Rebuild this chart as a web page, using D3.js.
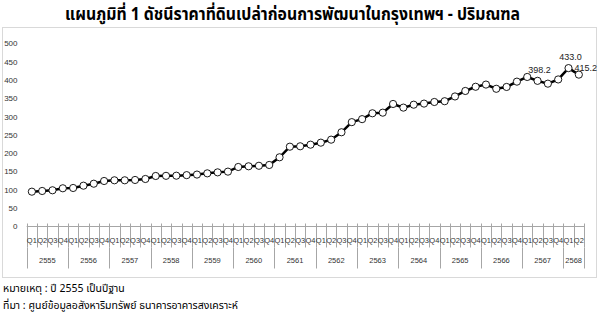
<!DOCTYPE html>
<html>
<head>
<meta charset="utf-8">
<script src="https://cdn.jsdelivr.net/npm/d3@7"></script>
<style>
  body { margin: 0; background: #fff; }
  text { font-family: Arial, "Liberation Sans", sans-serif; }
  .thai { font-family: "Noto Sans Thai", Tahoma, "Leelawadee UI", "DejaVu Sans", sans-serif; }
</style>
</head>
<body>
<div id="chart"></div>
<script>
// data: land price index, quarterly, base year 2555
var years = ["2555", "2556", "2557", "2558", "2559", "2560", "2561",
             "2562", "2563", "2564", "2565", "2566", "2567", "2568"];
var quartersPerYear = [4, 4, 4, 4, 4, 4, 4, 4, 4, 4, 4, 4, 4, 2];
var quarterNames = ["Q1", "Q2", "Q3", "Q4"];
var indexValues = [
  95.2, 97.1, 99.0, 104.5,
  105.3, 111.6, 117.0, 124.4,
  126.3, 126.3, 127.2, 129.9,
  138.1, 138.5, 138.9, 140.4,
  142.0, 145.3, 148.0, 150.0,
  162.7, 164.6, 166.0, 168.2,
  189.2, 218.2, 219.3, 223.7,
  229.2, 237.4, 257.6, 285.3,
  293.5, 309.5, 311.2, 335.0,
  325.0, 333.0, 336.0, 340.4,
  342.5, 355.5, 370.5, 382.0,
  388.0, 376.5, 381.5, 396.0,
  408.8, 398.2, 390.5, 402.0,
  433.0, 415.2
];
var labelIndex = [49, 52, 53];
var yTicks = [0, 50, 100, 150, 200, 250, 300, 350, 400, 450, 500];

var titel = "แผนภูมิที่ 1 ดัชนีราคาที่ดินเปล่าก่อนการพัฒนาในกรุงเทพฯ - ปริมณฑล";
var noot = "หมายเหตุ : ปี  2555 เป็นปีฐาน";
var bron = "ที่มา : ศูนย์ข้อมูลอสังหาริมทรัพย์ ธนาคารอาคารสงเคราะห์";

var breedte = 600, hoogte = 322;

// categories (one per quarter)
var categorieen = [];
years.forEach(function(j, yi) {
  for (var q = 0; q < quartersPerYear[yi]; q++) {
    categorieen.push({jaar: j, kwartaal: quarterNames[q]});
  }
});
var punten = indexValues.map(function(v, i) {
  return {i: i, waarde: v, cat: categorieen[i]};
});

var svg = d3.select("#chart").append("svg")
            .attr("width", breedte)
            .attr("height", hoogte);

// grey frame around plot
svg.append("rect")
   .attr("x", 2.5).attr("y", 27.5)
   .attr("width", 594).attr("height", 250)
   .attr("fill", "none")
   .attr("stroke", "#d9d9d9");

// title (condensed to the width of the original)
svg.append("text")
   .attr("class", "thai")
   .attr("x", 65).attr("y", 20)
   .attr("textLength", 455)
   .attr("lengthAdjust", "spacingAndGlyphs")
   .style("font-size", "17px")
   .style("font-weight", "bold")
   .text(titel);

var x = d3.scaleBand()
          .domain(d3.range(indexValues.length))
          .range([26.7, 584]);

var y = d3.scaleLinear()
          .domain([0, 500])
          .range([226.5, 43.6]);

// y labels
svg.append("g")
   .selectAll("text")
   .data(yTicks)
   .enter().append("text")
   .attr("x", 17.5)
   .attr("y", function(d) { return y(d); })
   .attr("dy", "0.35em")
   .attr("text-anchor", "end")
   .style("font-size", "8px")
   .attr("fill", "#333")
   .text(function(d) { return d; });

// x axis line
var as = svg.append("g");
as.append("line")
  .attr("x1", x.range()[0]).attr("x2", x.range()[1])
  .attr("y1", y(0)).attr("y2", y(0))
  .attr("stroke", "#a6a6a6");

// quarter ticks
as.selectAll(".qtick")
  .data(d3.range(indexValues.length + 1))
  .enter().append("line")
  .attr("class", "qtick")
  .attr("x1", function(d) { return Math.round(x.range()[0] + d * x.step()) + 0.5; })
  .attr("x2", function(d) { return Math.round(x.range()[0] + d * x.step()) + 0.5; })
  .attr("y1", y(0) - 3)
  .attr("y2", y(0) + 21)
  .attr("stroke", "#a6a6a6");

// quarter labels
as.selectAll(".qlabel")
  .data(punten)
  .enter().append("text")
  .attr("class", "qlabel")
  .attr("x", function(d) { return x(d.i) + x.bandwidth() / 2; })
  .attr("y", y(0) + 16)
  .attr("text-anchor", "middle")
  .style("font-size", "7.5px")
  .attr("fill", "#333")
  .text(function(d) { return d.cat.kwartaal; });

// year boundaries + labels
var start = 0;
var jaarGrenzen = [0];
var jaarMidden = [];
quartersPerYear.forEach(function(n) {
  jaarMidden.push(start + n / 2);
  start += n;
  jaarGrenzen.push(start);
});

as.selectAll(".ytick")
  .data(jaarGrenzen)
  .enter().append("line")
  .attr("class", "ytick")
  .attr("x1", function(d) { return Math.round(x.range()[0] + d * x.step()) + 0.5; })
  .attr("x2", function(d) { return Math.round(x.range()[0] + d * x.step()) + 0.5; })
  .attr("y1", y(0) + 21)
  .attr("y2", y(0) + 42)
  .attr("stroke", "#a6a6a6");

as.selectAll(".ylabel")
  .data(years)
  .enter().append("text")
  .attr("class", "ylabel")
  .attr("x", function(d, i) { return x.range()[0] + jaarMidden[i] * x.step(); })
  .attr("y", y(0) + 36)
  .attr("text-anchor", "middle")
  .style("font-size", "7.5px")
  .attr("fill", "#333")
  .text(function(d) { return d; });

// the line
var lijn = d3.line()
             .x(function(d) { return x(d.i) + x.bandwidth() / 2; })
             .y(function(d) { return y(d.waarde); });

svg.append("path")
   .datum(punten)
   .attr("d", lijn)
   .attr("fill", "none")
   .attr("stroke", "#000")
   .attr("stroke-width", 2.5);

svg.selectAll(".punt")
   .data(punten)
   .enter().append("circle")
   .attr("class", "punt")
   .attr("cx", function(d) { return x(d.i) + x.bandwidth() / 2; })
   .attr("cy", function(d) { return y(d.waarde); })
   .attr("r", 3.6)
   .attr("fill", "#fff")
   .attr("stroke", "#000")
   .attr("stroke-width", 0.9);

// data labels (last one sits up-right of its point, ends inside the frame)
svg.selectAll(".dlabel")
   .data(labelIndex)
   .enter().append("text")
   .attr("class", "dlabel")
   .attr("x", function(d) {
     var cx = x(d) + x.bandwidth() / 2;
     return d === 53 ? 597 : cx + 2;
   })
   .attr("y", function(d) {
     var cy = y(indexValues[d]);
     return d === 53 ? cy - 4 : cy - 8;
   })
   .attr("text-anchor", function(d) { return d === 53 ? "end" : "middle"; })
   .style("font-size", "9px")
   .attr("fill", "#222")
   .text(function(d) { return indexValues[d].toFixed(1); });

// footnotes
svg.append("text")
   .attr("class", "thai")
   .attr("x", 3).attr("y", 292)
   .style("font-size", "10.5px")
   .text(noot);

svg.append("text")
   .attr("class", "thai")
   .attr("x", 3).attr("y", 309)
   .style("font-size", "10.5px")
   .text(bron);
</script>
</body>
</html>
